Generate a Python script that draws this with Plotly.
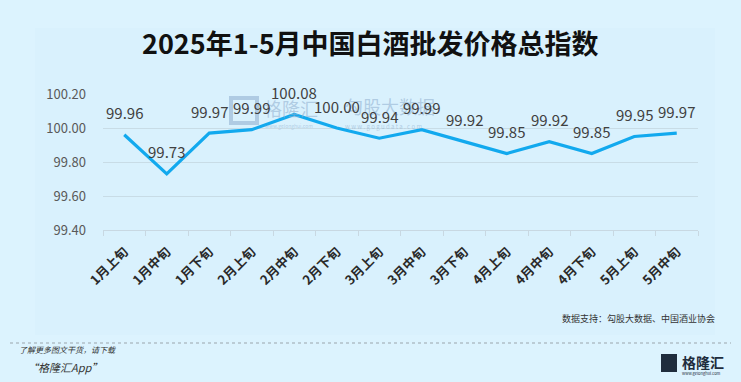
import plotly.graph_objects as go

categories = ["1月上旬", "1月中旬", "1月下旬", "2月上旬", "2月中旬", "2月下旬", "3月上旬",
              "3月中旬", "3月下旬", "4月上旬", "4月中旬", "4月下旬", "5月上旬", "5月中旬"]
values = [99.96, 99.73, 99.97, 99.99, 100.08, 100.00, 99.94, 99.99, 99.92, 99.85, 99.92, 99.85, 99.95, 99.97]
y_ticks = [99.40, 99.60, 99.80, 100.00, 100.20]

title = "2025年1-5月中国白酒批发价格总指数"
source = "数据支持：勾股大数据、中国酒业协会"

BG = "#DCF3FE"
FONT = "Noto Sans CJK SC"
PW, PH = 595, 136  # plot area size in px
WM = "rgba(140,172,205,0.55)"


def px(xp):
    return (xp - 103) / PW


def py(yp):
    return (230 - yp) / PH


fig = go.Figure()
fig.add_trace(go.Scatter(
    x=categories, y=values, mode="lines",
    line=dict(color="#12A9EE", width=3.2),
    hoverinfo="skip", showlegend=False,
))

annotations = [
    dict(text="格隆汇", xref="paper", yref="paper", x=px(262), y=py(108),
         xanchor="left", yanchor="middle", showarrow=False,
         font=dict(family=FONT, size=18, color=WM)),
    dict(text="www.gelonghui.com", xref="paper", yref="paper", x=px(263), y=py(126),
         xanchor="left", yanchor="middle", showarrow=False,
         font=dict(family=FONT, size=5, color=WM)),
    dict(text="勾股大数据", xref="paper", yref="paper", x=px(343), y=py(106),
         xanchor="left", yanchor="middle", showarrow=False,
         font=dict(family=FONT, size=18, color=WM)),
    dict(text="w w w . g o g u d a t a . c o m", xref="paper", yref="paper",
         x=px(343), y=py(126), xanchor="left", yanchor="middle", showarrow=False,
         font=dict(family=FONT, size=6, color=WM)),
]

for c, v in zip(categories, values):
    annotations.append(dict(x=c, y=v, xref="x", yref="y", text=f"{v:.2f}", showarrow=False,
                            yshift=22, font=dict(family=FONT, size=15, color="#404040")))

annotations += [
    dict(text=title, xref="paper", yref="paper", x=px(370), y=py(42),
         showarrow=False, xanchor="center", yanchor="middle",
         font=dict(family=FONT, size=27, color="#111111", weight="bold")),
    dict(text=source, xref="paper", yref="paper", x=px(717), y=py(318),
         showarrow=False, xanchor="right", yanchor="middle",
         font=dict(family=FONT, size=9, color="#333333")),
    dict(text="<i>了解更多图文干货，请下载</i>", xref="paper", yref="paper",
         x=px(17), y=py(349), showarrow=False, xanchor="left", yanchor="middle",
         font=dict(family=FONT, size=8, color="#333333")),
    dict(text="<i>“格隆汇App”</i>", xref="paper", yref="paper",
         x=px(25), y=py(367), showarrow=False, xanchor="left", yanchor="middle",
         font=dict(family=FONT, size=11, color="#333333")),
    dict(text="<b>格隆汇</b>", xref="paper", yref="paper",
         x=px(680), y=py(362), showarrow=False, xanchor="left", yanchor="middle",
         font=dict(family=FONT, size=14, color="#1F2D3D")),
    dict(text="www.gelonghui.com", xref="paper", yref="paper",
         x=px(680), y=py(373), showarrow=False, xanchor="left", yanchor="middle",
         font=dict(family=FONT, size=4, color="#1F2D3D")),
]

fig.update_layout(
    width=741, height=382,
    margin=dict(l=103, r=43, t=94, b=152, autoexpand=False),
    paper_bgcolor=BG, plot_bgcolor=BG,
    font=dict(family=FONT),
    xaxis=dict(
        type="category", range=[-0.5, len(categories) - 0.5],
        tickson="boundaries", ticks="outside", ticklen=5,
        tickcolor="#C8D8E2", showline=True, linecolor="#C8D8E2", linewidth=1,
        showgrid=False, tickangle=-45, automargin=False, ticklabelstandoff=8,
        tickfont=dict(family=FONT, size=13, color="#2A2A2A", weight="bold"),
    ),
    yaxis=dict(
        range=[99.4, 100.2], tickvals=y_ticks, ticktext=[f"{t:.2f}" for t in y_ticks],
        showgrid=True, gridcolor="#C8DCE6", gridwidth=1, zeroline=False,
        ticklabelstandoff=16, automargin=False,
        tickfont=dict(family=FONT, size=13, color="#595959"),
    ),
    shapes=[
        dict(type="rect", xref="paper", yref="paper", layer="below",
             x0=px(35), x1=px(715), y0=py(335), y1=py(28),
             fillcolor="#D9F1FD", line=dict(width=0)),
        dict(type="rect", xref="paper", yref="paper", layer="below",
             x0=px(231), x1=px(257), y0=py(123), y1=py(98),
             fillcolor="rgba(0,0,0,0)", line=dict(color=WM, width=4)),
        dict(type="line", xref="paper", yref="paper",
             x0=px(10), x1=px(731), y0=py(343), y1=py(343),
             line=dict(color="#9AA5AC", width=1, dash="dot")),
        dict(type="rect", xref="paper", yref="paper",
             x0=px(661), x1=px(677), y0=py(372), y1=py(354),
             fillcolor="#1F2D3D", line=dict(width=0)),
    ],
    annotations=annotations,
)

fig.write_html("out.html")
